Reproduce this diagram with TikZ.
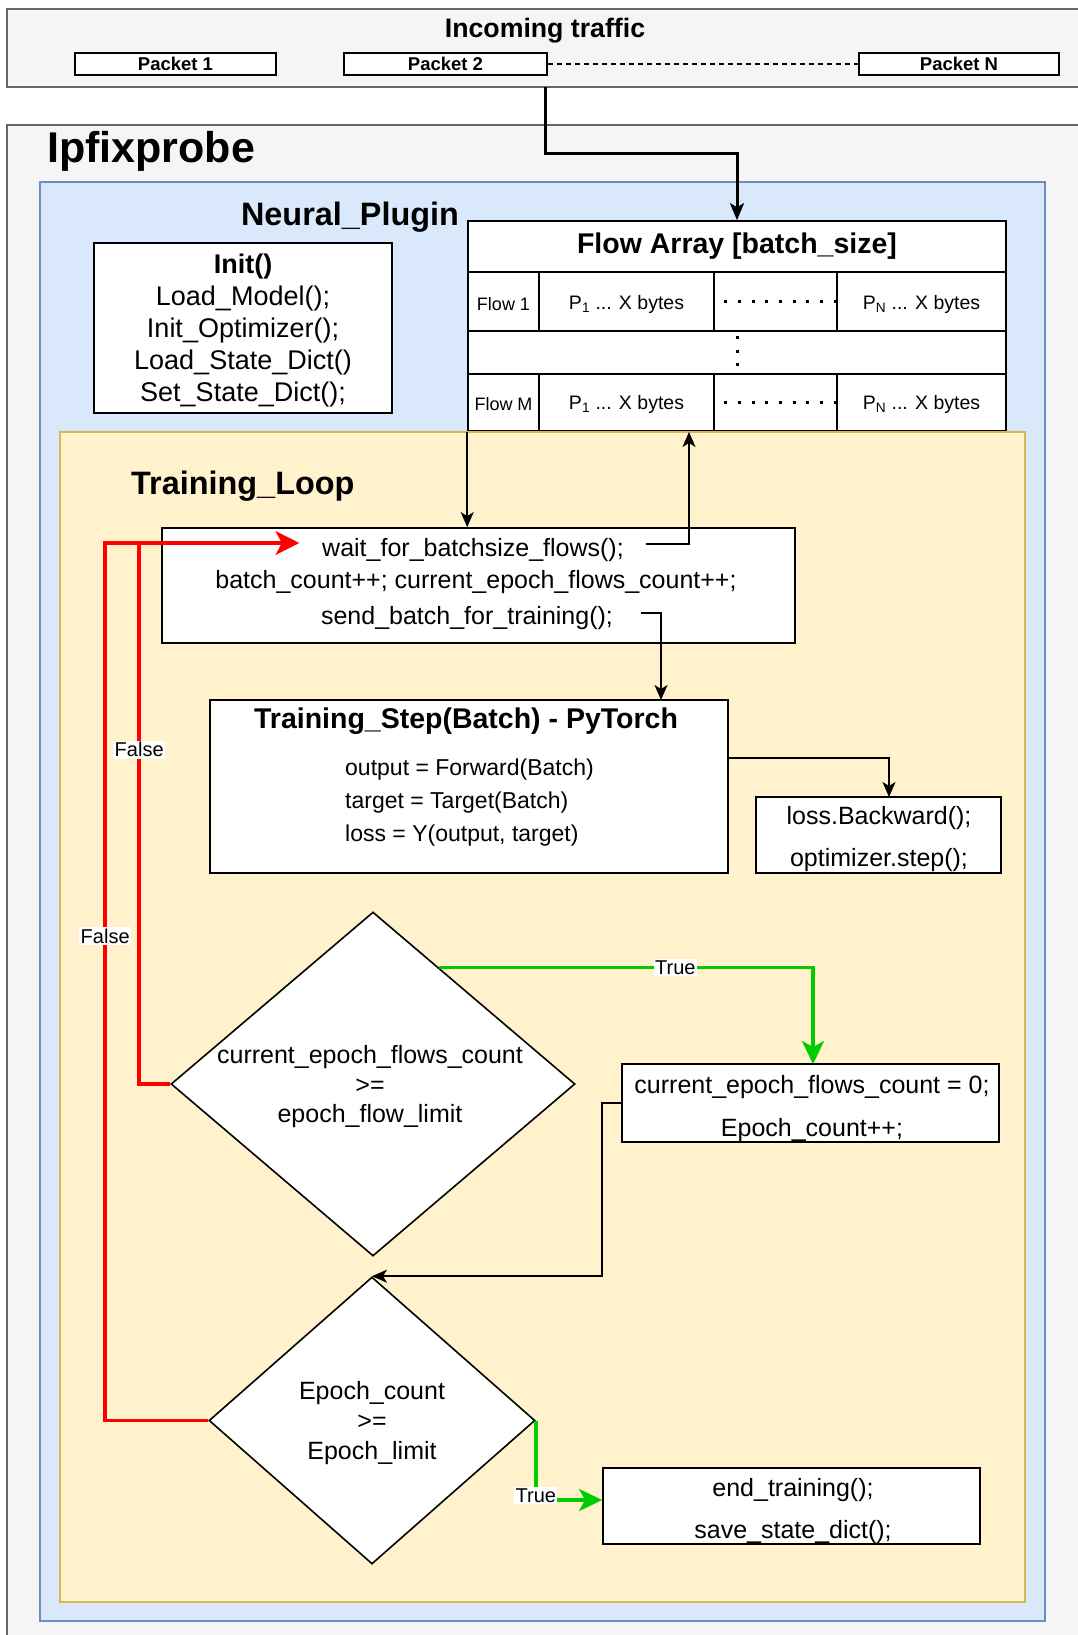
\documentclass[tikz,border=0pt]{standalone}
\usepackage{fontspec}
\setmainfont{Liberation Sans}
\usetikzlibrary{shapes.geometric,arrows.meta,calc}
\definecolor{grayfill}{HTML}{F5F5F5}
\definecolor{graydraw}{HTML}{666666}
\definecolor{bluefill}{HTML}{DAE8FC}
\definecolor{bluedraw}{HTML}{6C8EBF}
\definecolor{yelfill}{HTML}{FFF2CC}
\definecolor{yeldraw}{HTML}{D6B656}
\definecolor{myred}{HTML}{FF0000}
\definecolor{mygreen}{HTML}{00CC00}
\newcommand\fsz[2]{\fontsize{#1pt}{#2pt}\selectfont}
\begin{document}
\begin{tikzpicture}[x=1pt,y=-1pt,
  grpgray/.style={draw=graydraw,fill=grayfill,line width=1.5pt,inner sep=0},
  grpblue/.style={draw=bluedraw,fill=bluefill,line width=1.5pt,inner sep=0},
  grpyel/.style={draw=yeldraw,fill=yelfill,line width=2pt,inner sep=0},
  box/.style={draw=black,fill=white,line width=1.8pt,inner sep=0},
  cell/.style={draw=black,fill=white,line width=1.6pt,inner sep=0,font=\fsz{19.5}{23}},
  pkt/.style={draw=black,fill=white,line width=1.6pt,inner sep=0,minimum height=22pt,font=\bfseries\fsz{18.5}{22}},
  dia/.style={diamond,draw=black,fill=white,line width=1.6pt,inner sep=0},
  txt/.style={inner sep=0,font=\fsz{25}{30}},
  lbl/.style={fill=white,inner sep=1.5pt,font=\fsz{20}{24},text=black},
  dotline/.style={line width=3pt,dash pattern=on 3pt off 10.7pt},
  conn/.style={draw=black,line width=1.6pt,-{Stealth[length=15pt,width=13pt,inset=4pt]}},
  thickconn/.style={draw=black,line width=3pt,-{Stealth[length=17pt,width=14pt,inset=4pt]}},
  redconn/.style={draw=myred,line width=3.5pt,-{Stealth[length=23pt,width=23pt,inset=6pt]}},
  greenconn/.style={draw=mygreen,line width=3.5pt,-{Stealth[length=23pt,width=22pt,inset=6pt]}}
]
\useasboundingbox (0,0) rectangle (1078,1635);

% Incoming traffic
\node[grpgray,minimum width=1083pt,minimum height=78pt] (traffic) at (548.5,48) {};
\node[inner sep=0,font=\bfseries\fsz{26.7}{32}] (traffictitle) at (545,31) {Incoming traffic};
\node[pkt,minimum width=201pt] (p1) at (175.5,64) {Packet 1};
\node[pkt,minimum width=203pt] (p2) at (445.5,64) {Packet 2};
\node[pkt,minimum width=200pt] (pn) at (959,64) {Packet N};
\draw[line width=1.3pt,dash pattern=on 5pt off 4pt] (p2.east) -- (pn.west);

% Ipfixprobe
\node[grpgray,minimum width=1083pt,minimum height=1530pt] (ipfix) at (548.5,890) {};
\node[anchor=west,inner sep=0,font=\bfseries\fsz{43}{50}] (ipfixtitle) at (47,151) {Ipfixprobe};

% Neural plugin
\node[grpblue,minimum width=1005pt,minimum height=1439pt] (neural) at (542.5,901.5) {};
\node[inner sep=0,font=\bfseries\fsz{32.4}{38}] (neuraltitle) at (350,217) {Neural\_Plugin};

% Init
\node[box,minimum width=298pt,minimum height=170pt] (init) at (243,328) {};
\node[align=center,inner sep=0,font=\fsz{27}{32}] (inittext) at (243,331)
  {\textbf{Init()}\\Load\_Model();\\Init\_Optimizer();\\Load\_State\_Dict()\\Set\_State\_Dict();};

% Flow array table
\node[cell,minimum width=538pt,minimum height=51pt,font=\bfseries\fsz{28.5}{34}] (hdr) at (737,246.5) {Flow Array [batch\_size]};
\node[cell,minimum width=71pt,minimum height=59pt] (f1) at (503.5,301.5) {};
\node[cell,minimum width=175pt,minimum height=59pt] (f1a) at (626.5,301.5) {};
\node[cell,minimum width=123pt,minimum height=59pt] (f1b) at (775.5,301.5) {};
\node[cell,minimum width=169pt,minimum height=59pt] (f1c) at (921.5,301.5) {};
\node[cell,minimum width=538pt,minimum height=43pt] (mid) at (737,352.5) {};
\node[cell,minimum width=71pt,minimum height=57pt] (m1) at (503.5,402.5) {};
\node[cell,minimum width=175pt,minimum height=57pt] (m1a) at (626.5,402.5) {};
\node[cell,minimum width=123pt,minimum height=57pt] (m1b) at (775.5,402.5) {};
\node[cell,minimum width=169pt,minimum height=57pt] (m1c) at (921.5,402.5) {};
\node[inner sep=0,font=\fsz{18}{22}] (f1t) at ([yshift=-3pt]f1.center) {Flow 1};
\node[inner sep=0,font=\fsz{19.5}{23}] (f1at) at ([yshift=-3pt]f1a.center) {P\textsubscript{1} ... X bytes};
\node[inner sep=0,font=\fsz{19.5}{23}] (f1ct) at ([yshift=-3pt]f1c.center) {P\textsubscript{N} ... X bytes};
\node[inner sep=0,font=\fsz{18}{22}] (m1t) at ([yshift=-2pt]m1.center) {Flow M};
\node[inner sep=0,font=\fsz{19.5}{23}] (m1at) at ([yshift=-2pt]m1a.center) {P\textsubscript{1} ... X bytes};
\node[inner sep=0,font=\fsz{19.5}{23}] (m1ct) at ([yshift=-2pt]m1c.center) {P\textsubscript{N} ... X bytes};
\draw[dotline] ([xshift=11pt]f1b.west) -- (f1b.east);
\draw[dotline] ([xshift=11pt]m1b.west) -- (m1b.east);
\draw[dotline] (737,336) -- (737,374);

% Training loop
\node[grpyel,minimum width=965pt,minimum height=1170pt] (train) at (542.5,1017) {};
\node[anchor=west,inner sep=0,font=\bfseries\fsz{32.4}{38}] (traintitle) at (131,486) {Training\_Loop};

% wait box
\node[box,minimum width=633pt,minimum height=115pt] (wait) at (478.5,585.5) {};
\node[txt] (waitA) at (473,550) {wait\_for\_batchsize\_flows();};
\node[txt] (waitB) at (476,582.5) {batch\_count++; current\_epoch\_flows\_count++;};
\node[txt] (waitC) at (467,618) {send\_batch\_for\_training();};

% training step
\node[box,minimum width=518pt,minimum height=173pt] (step) at (469,786.5) {};
\node[inner sep=0,font=\bfseries\fsz{28.5}{34}] (steptitle) at (466,721) {Training\_Step(Batch) - PyTorch};
\node[anchor=west,align=left,inner sep=0,font=\fsz{23}{33}] (stepbody) at (345,803)
  {output = Forward(Batch)\\target = Target(Batch)\\loss = Y(output, target)};

% loss box
\node[box,minimum width=245pt,minimum height=76pt] (loss) at (878.5,835) {};
\node[align=center,inner sep=0,font=\fsz{25}{42}] (losstext) at (879,839) {loss.Backward();\\optimizer.step();};

% decision 1
\node[dia,minimum width=404pt,minimum height=344pt] (d1) at (373,1084) {};
\node[align=center,inner sep=0,font=\fsz{25}{29.5}] (d1text) at (370,1087)
  {current\_epoch\_flows\_count\\>=\\epoch\_flow\_limit};

% reset box
\node[box,minimum width=377pt,minimum height=78pt] (cur0) at (810.5,1103) {};
\node[align=center,inner sep=0,font=\fsz{25}{43}] (cur0text) at (812,1109)
  {current\_epoch\_flows\_count = 0;\\Epoch\_count++;};

% decision 2
\node[dia,minimum width=326pt,minimum height=287pt] (d2) at (372,1420.5) {};
\node[align=center,inner sep=0,font=\fsz{25}{30}] (d2text) at (372,1423)
  {Epoch\_count\\>=\\Epoch\_limit};

% end box
\node[box,minimum width=377pt,minimum height=76pt] (endbox) at (791.5,1506) {};
\node[align=center,inner sep=0,font=\fsz{25}{42}] (endtext) at (793,1511)
  {end\_training();\\save\_state\_dict();};

% connector coordinates
\coordinate (trafficout) at (545,87);
\coordinate (waitAout) at (646,544);
\coordinate (tablein) at (689,432);
\coordinate (waitCout) at (641,613);
\coordinate (stepin) at (661,700);
\coordinate (stepout) at (728,758);
\coordinate (lossin) at (889,797);
\coordinate (d1out) at ($(d1.north)!0.326!(d1.east)$);
\coordinate (cur0in) at (813,1064);
\coordinate (redtip) at (299,543);

% connectors
\draw[thickconn] (trafficout) -- ++(0,66) -| (hdr.north);
\draw[conn] (m1.south west) -- (m1.south west |- wait.north);
\draw[conn] (waitAout) -| (tablein);
\draw[conn] (waitCout) -| (stepin);
\draw[conn] (stepout) -| (lossin);
\draw[greenconn] (d1out) -| (cur0in) node[lbl,pos=0.316] {True};
\draw[conn] (cur0.west) -- ++(-19,0) |- (d2.north);
\draw[greenconn] (d2.east) |- ([yshift=6pt]endbox.west) node[lbl,pos=0.47] {True};
\draw[redconn] (d1.west) -- ++(-31,0) |- (redtip) node[lbl,pos=0.309] {False};
\draw[redconn] (d2.west) -- ++(-103,0) |- (redtip) node[lbl,pos=0.276] {False};
\end{tikzpicture}
\end{document}
